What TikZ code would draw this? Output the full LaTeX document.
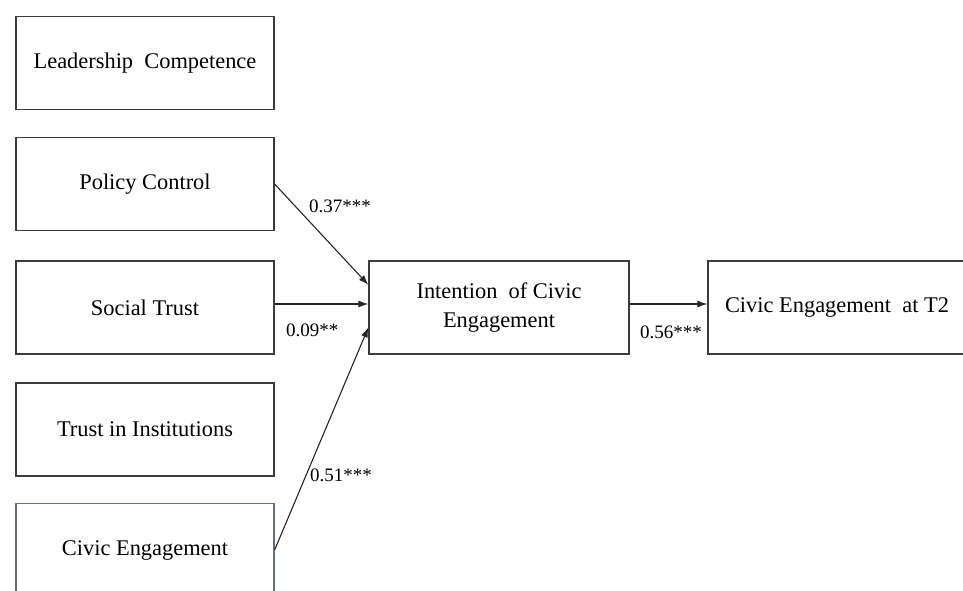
\documentclass[tikz,border=0pt]{standalone}
\usepackage{fontspec}
\setmainfont{Liberation Serif}
\usetikzlibrary{arrows.meta,calc}
\definecolor{boxline}{RGB}{60,60,60}
\definecolor{boxlineb}{RGB}{100,110,125}
\begin{document}
\begin{tikzpicture}[x=1pt,y=-1pt,
  box/.style={draw=boxline,line width=1.2pt,minimum width=258pt,minimum height=93pt,inner sep=0pt,font=\fontsize{22.4}{28.5}\selectfont,align=center},
  coef/.style={font=\fontsize{19}{22}\selectfont,inner sep=0pt},
  arr/.style={line width=1.1pt,draw=black!85,-{Latex[length=10pt,width=7pt]}}]
\useasboundingbox (0,0) rectangle (963,590);
\clip (0,0) rectangle (963,590);
\fill[white] (0,0) rectangle (963,590);
\node[box] (lc) at (145,63) {Leadership\ \ Competence};
\node[box] (pc) at (145,184) {Policy Control};
\node[box] (st) at (145,307.5) {Social Trust};
\node[box] (ti) at (145,429.5) {Trust in Institutions};
\node[box,draw=boxlineb] (ce) at (145,550) {Civic Engagement};
\node[box,minimum width=260pt] (ice) at (499,307.5) {Intention\ \ of Civic\\Engagement};
\node[box] (ce2) at (837,307.5) {Civic Engagement\ \ at T2};
\draw[arr] (pc.east) -- ($(ice.north west)!0.26!(ice.south west)$);
\draw[arr] (st.east |- 0,304) -- (ice.west |- 0,304);
\draw[arr] (ce.east) -- ($(ice.north west)!0.71!(ice.south west)$);
\draw[arr] (ice.east |- 0,304) -- (ce2.west |- 0,304);
\node[coef,anchor=west] (l1) at (309,206) {0.37***};
\node[coef,anchor=west] (l2) at (286,330) {0.09**};
\node[coef,anchor=west] (l3) at (310,475) {0.51***};
\node[coef,anchor=west] (l4) at (640,332) {0.56***};
\end{tikzpicture}
\end{document}
